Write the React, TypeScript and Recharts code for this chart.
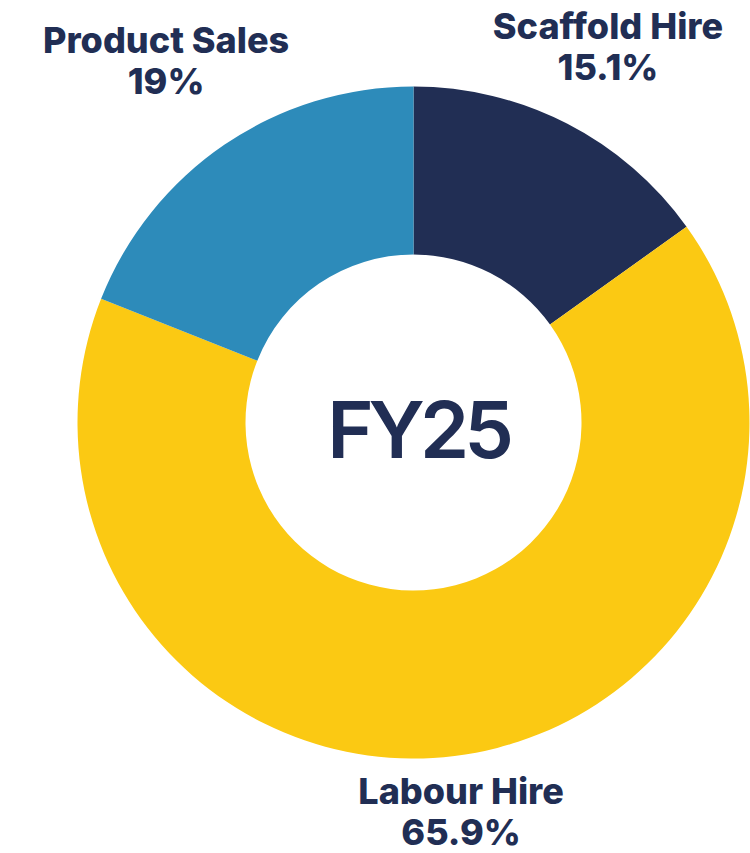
import { PieChart, Pie, Cell } from 'recharts'

// FY25 revenue split
const segments = ['Scaffold Hire', 'Labour Hire', 'Product Sales']
const shares = [15.1, 65.9, 19]
const shareLabels = ['15.1%', '65.9%', '19%']
const colors = ['#212E54', '#FBC913', '#2D8BBA']

const chartData = segments.map((name, i) => ({
	name,
	value: shares[i],
	pct: shareLabels[i],
	color: colors[i],
}))

const LABEL_FONT = 'Inter, "Noto Sans", sans-serif'
const LABEL_SIZE = 36
const LINE_GAP = 41
const RADIAN = Math.PI / 180

let measureCtx: CanvasRenderingContext2D | null = null
function textWidth(text: string) {
	if (!measureCtx) {
		measureCtx = document.createElement('canvas').getContext('2d')
	}
	if (!measureCtx) return text.length * LABEL_SIZE * 0.58
	measureCtx.font = `800 ${LABEL_SIZE}px ${LABEL_FONT}`
	return measureCtx.measureText(text).width
}

/**
 * Two-line label sitting just outside the ring, pushed out so the
 * text block clears the slice
 */
function OutsideLabel(props: any) {
	const { cx, cy, midAngle, outerRadius, payload } = props
	const name = payload.name
	const pct = payload.pct
	const w = Math.max(textWidth(name), textWidth(pct))
	const h = 70
	const cos = Math.cos(-midAngle * RADIAN)
	const sin = Math.sin(-midAngle * RADIAN)
	const r = outerRadius + 6 + Math.abs(cos) * (w / 2) + Math.abs(sin) * (h / 2)
	const x = cx + r * cos
	const y = cy + r * sin
	return (
		<text
			x={x}
			y={y}
			textAnchor="middle"
			fill="#212E54"
			fontFamily={LABEL_FONT}
			fontWeight={800}
			fontSize={LABEL_SIZE}
		>
			<tspan x={x} dy={-5}>
				{name}
			</tspan>
			<tspan x={x} dy={LINE_GAP}>
				{pct}
			</tspan>
		</text>
	)
}

export default function App() {
	return (
		<div style={{ position: 'fixed', top: 0, left: 0, background: '#fff' }}>
			<PieChart width={750} height={853} margin={{ top: 0, right: 0, bottom: 0, left: 0 }}>
				<Pie
					data={chartData}
					dataKey="value"
					cx={413.5}
					cy={422.5}
					innerRadius={168}
					outerRadius={336}
					startAngle={90}
					endAngle={-270}
					stroke="none"
					label={OutsideLabel}
					labelLine={false}
					isAnimationActive={false}
				>
					{chartData.map((entry, index) => (
						<Cell key={`cell-${index}`} fill={entry.color} />
					))}
				</Pie>
				<text
					x={418}
					y={458}
					textAnchor="middle"
					fill="#212E54"
					fontFamily="Inter, sans-serif"
					fontWeight={600}
					fontSize={79}
					letterSpacing={-5}
				>
					FY25
				</text>
			</PieChart>
		</div>
	)
}
